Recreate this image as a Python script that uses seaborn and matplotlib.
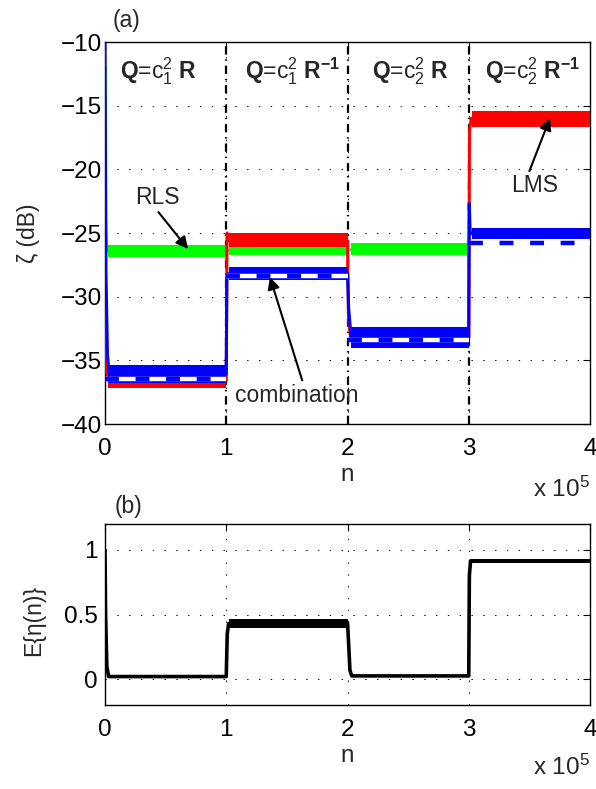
import numpy as np
import pandas as pd
import matplotlib
matplotlib.use("Agg")
import matplotlib.pyplot as plt
import seaborn as sns

# ---------------- data ----------------
seg_start = [0, 100000, 200000, 300000]
seg_end = [100000, 200000, 300000, 400000]
seg_labels = [r"$\mathbf{Q}$=c$_1^2$ $\mathbf{R}$",
              r"$\mathbf{Q}$=c$_1^2$ $\mathbf{R}^{\mathbf{-1}}$",
              r"$\mathbf{Q}$=c$_2^2$ $\mathbf{R}$",
              r"$\mathbf{Q}$=c$_2^2$ $\mathbf{R}^{\mathbf{-1}}$"]
seg_label_n = [12400, 115500, 220000, 313400]

# RLS (green)
rls_n = [0, 500, 1500, 300000, 300500, 301500, 400000]
rls_db = [-12.0, -24.0, -26.4, -26.3, -25.2, -24.95, -24.95]
rls_level = [-26.4, -26.35, -26.25, -24.95]
rls_hw = [0.45, 0.40, 0.45, 0.32]

# LMS (red)
lms_n = [0, 300, 1500, 3000, 100000, 100600, 102000, 200000, 200800, 202500,
         300000, 300600, 302000, 400000]
lms_db = [-20.0, -30.0, -36.0, -36.6, -36.6, -25.0, -25.6, -25.6, -31.5, -33.2,
          -33.2, -17.0, -16.0, -16.0]
lms_level = [-36.6, -25.55, -33.2, -16.05]
lms_hw = [0.55, 0.55, 0.45, 0.60]

# combination (blue)
comb_n = [0, 800, 2000, 3500, 100000, 100500, 101500, 200000, 201000, 203000,
          300000, 300400, 301200, 400000]
comb_db = [-10.0, -28.0, -34.5, -36.1, -36.1, -28.5, -28.2, -28.2, -31.0, -33.2,
           -33.2, -22.7, -25.05, -25.05]
comb_level = [-36.1, -28.2, -33.2, -25.05]
comb_hw = [0.70, 0.52, 0.80, 0.45]

# theory (dashed)
theory_level = [-36.5, -28.35, -33.4, -25.8]

# E{eta(n)}
eta_n = [0, 500, 1500, 3000, 100000, 100800, 102000, 200000, 200800, 202000, 203500,
         300000, 300500, 301500, 400000]
eta_v = [1.0, 0.5, 0.1, 0.02, 0.02, 0.35, 0.43, 0.44, 0.30, 0.07, 0.025,
         0.025, 0.80, 0.915, 0.915]
eta_level = [0.02, 0.428, 0.025, 0.915]
eta_hw = [0.007, 0.035, 0.007, 0.013]

xticks = [0, 100000, 200000, 300000, 400000]
xticklabels = ["0", "1", "2", "3", "4"]
yticks_top = [-40, -35, -30, -25, -20, -15, -10]
yticks_bot = [0, 0.5, 1]

# ---------------- style ----------------
sns.set_style("white")
plt.rcParams["font.family"] = ["Liberation Sans", "DejaVu Sans"]
plt.rcParams["mathtext.fontset"] = "custom"
plt.rcParams["mathtext.rm"] = "Liberation Sans"
plt.rcParams["mathtext.it"] = "Liberation Sans:italic"
plt.rcParams["mathtext.bf"] = "Liberation Sans:bold"
plt.rcParams["lines.scale_dashes"] = False
plt.rcParams["axes.edgecolor"] = "black"
plt.rcParams["axes.linewidth"] = 1.0

FS = 16.5
TFS = 17.5
W, H = 596, 789
fig = plt.figure(figsize=(W / 100, H / 100), dpi=100)
ax1 = fig.add_axes([105 / W, 1 - 424 / H, 485 / W, 382 / H])
ax2 = fig.add_axes([105 / W, 1 - 705 / H, 485 / W, 181 / H])

grid_kw = dict(color="k", linestyle=(0, (1, 7.5)), linewidth=0.7)


def style_axes(ax, yticks, ypad):
    ax.set_xlim(0, 400000)
    ax.set_xticks(xticks)
    ax.set_xticklabels(xticklabels)
    ax.set_yticks(yticks)
    ax.tick_params(direction="in", length=5, width=0.8, top=True, right=True,
                   labelsize=TFS, colors="k")
    ax.tick_params(axis="x", pad=10)
    ax.tick_params(axis="y", pad=ypad)
    ax.grid(True, **grid_kw)
    ax.set_axisbelow(True)
    ax.set_xlabel("")
    ax.set_ylabel("")
    for s in ax.spines.values():
        s.set_visible(True)
        s.set_color("k")
        s.set_linewidth(1.0)


def draw_series(ax, n, v, level, hw, color, lw, z):
    df = pd.DataFrame({"n": n, "v": v})
    sns.lineplot(data=df, x="n", y="v", color=color, lw=lw, estimator=None,
                 sort=False, ax=ax, zorder=z)
    for s, e, lv, h in zip(seg_start, seg_end, level, hw):
        ax.fill_between([s + 2500, e], [lv - h] * 2, [lv + h] * 2, color=color,
                        lw=0, zorder=z)


# ---------------- top panel ----------------
for xb in seg_start[1:]:
    ax1.axvline(xb, color="k", lw=1.6, linestyle=(0, (6, 3.5, 1, 3.5)), zorder=1.5)

draw_series(ax1, rls_n, rls_db, rls_level, rls_hw, (0, 1, 0), 2.2, 2)
draw_series(ax1, lms_n, lms_db, lms_level, lms_hw, (1, 0, 0), 2.2, 3)
draw_series(ax1, comb_n, comb_db, comb_level, comb_hw, (0, 0, 1), 2.2, 4)

for s, e, lv in zip(seg_start, seg_end, theory_level):
    ax1.plot([s, e], [lv, lv], color="white", lw=3.2, solid_capstyle="butt", zorder=5)
    ax1.plot([s, e], [lv, lv], color=(0, 0, 1), lw=3.2, dashes=(10, 12),
             dash_capstyle="butt", zorder=6)

for xl, lab in zip(seg_label_n, seg_labels):
    ax1.text(xl, -12.83, lab, fontsize=FS, ha="left", va="baseline", zorder=7)

arrow = dict(arrowstyle="-|>", color="k", lw=1.5, mutation_scale=18, shrinkA=0, shrinkB=0)
ax1.annotate("RLS", xy=(68500, -26.26), xytext=(43000, -22.2), fontsize=FS,
             ha="center", va="center", zorder=8,
             arrowprops=dict(arrow, relpos=(0.47, 0.0)))
ax1.annotate("LMS", xy=(367000, -15.97), xytext=(354000, -21.3), fontsize=FS,
             ha="center", va="center", zorder=8,
             arrowprops=dict(arrow, relpos=(0.37, 1.0)))
ax1.annotate("combination", xy=(136000, -28.46), xytext=(158400, -37.73), fontsize=FS,
             ha="center", va="center", zorder=8,
             arrowprops=dict(arrow, relpos=(0.55, 1.0)))

ax1.set_ylim(-40, -10)
style_axes(ax1, yticks_top, 2)

# ---------------- bottom panel ----------------
draw_series(ax2, eta_n, eta_v, eta_level, eta_hw, "k", 2.6, 3)
ax2.set_ylim(-0.2, 1.2)
style_axes(ax2, yticks_bot, 5)
ax2.set_yticklabels(["0", "0.5", "1"])

# ---------------- labels ----------------
fig.text(126 / W, 1 - 21 / H, "(a)", fontsize=FS, ha="center", va="center")
fig.text(128 / W, 1 - 507 / H, "(b)", fontsize=FS, ha="center", va="center")
fig.text(29 / W, 1 - 233 / H, "ζ (dB)", fontsize=FS, rotation=90, ha="center", va="center")
fig.text(34 / W, 1 - 620 / H, "E{η(n)}", fontsize=FS, rotation=90, ha="center", va="center")
fig.text(347 / W, 1 - 475 / H, "n", fontsize=TFS, ha="center", va="center")
fig.text(347 / W, 1 - 756 / H, "n", fontsize=TFS, ha="center", va="center")
fig.text(590 / W, 1 - 497 / H, r"x 10$^5$", fontsize=TFS, ha="right", va="baseline")
fig.text(590 / W, 1 - 775 / H, r"x 10$^5$", fontsize=TFS, ha="right", va="baseline")

fig.savefig("out.png", dpi=100, facecolor="white")
